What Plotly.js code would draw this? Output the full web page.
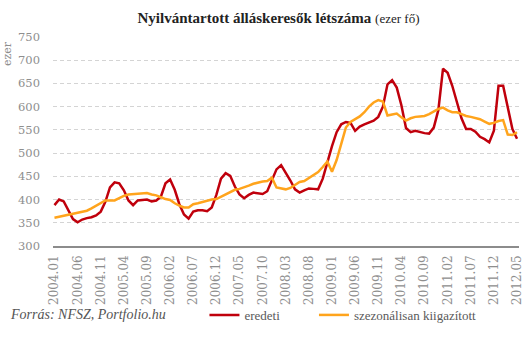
<!DOCTYPE html>
<html>
<head>
<meta charset="utf-8">
<script src="https://cdn.plot.ly/plotly-3.0.1.min.js"></script>
<style>html,body{margin:0;padding:0;background:#fff;}#chart{width:531px;height:342px;}</style>
</head>
<body>
<div id="chart"></div>
<script>
const tickLabels = ["2004.01","2004.06","2004.11","2005.04","2005.09","2006.02","2006.07","2006.12","2007.05","2007.10","2008.03","2008.08","2009.01","2009.06","2009.11","2010.04","2010.09","2011.02","2011.07","2011.12","2012.05"];
const eredeti = [388,400,396,378,358,351,357,360,362,366,374,395,426,437,435,420,398,388,398,399,400,396,398,406,435,443,421,390,368,359,374,377,377,375,383,410,445,457,451,428,411,403,410,415,413,412,418,440,465,474,458,441,422,415,420,424,423,422,445,481,515,545,562,567,565,548,557,562,566,570,578,600,648,657,641,603,554,545,548,545,543,542,555,593,682,673,645,610,575,552,552,546,535,530,523,548,645,645,600,552,531];
const kiigazitott = [361,363,365,368,370,372,374,376,381,387,393,398,398,398,403,408,411,412,412,413,414,411,409,405,401,399,392,387,383,383,390,392,395,397,400,401,406,412,417,421,423,426,430,434,437,439,440,447,426,424,422,425,432,438,440,446,453,459,470,482,460,485,520,555,567,573,579,588,600,609,614,611,581,583,585,577,570,575,578,579,580,584,590,595,598,592,588,588,584,580,578,576,573,568,563,565,569,571,540,539,545];
const seriesNames = ["eredeti","szezonálisan kiigazított"];

const idx = eredeti.map((_, i) => i);
const tickIdx = tickLabels.map((_, k) => k * 5);

const serif = "DejaVu Serif, Liberation Serif, serif";
const legendFont = {family: "Liberation Serif, serif", size: 13, color: "#5a5a5a"};

const traces = [
  {x: idx, y: eredeti, name: seriesNames[0], type: "scatter", mode: "lines",
   line: {color: "#c0000c", width: 2.5}, legend: "legend"},
  {x: idx, y: kiigazitott, name: seriesNames[1], type: "scatter", mode: "lines",
   line: {color: "#ffa41c", width: 2.5}, legend: "legend2"}
];

const layout = {
  width: 531, height: 342,
  margin: {l: 53, r: 12, t: 37, b: 87},
  paper_bgcolor: "#fff", plot_bgcolor: "#fff",
  showlegend: true,
  title: {
    text: "<b>Nyilvántartott álláskeresők létszáma</b> <span style='font-size:13px'>(ezer fő)</span>",
    font: {family: "Liberation Serif, serif", size: 15, color: "#222"},
    x: 0.5245, xref: "container", xanchor: "center",
    y: 0.947, yref: "container", yanchor: "middle"
  },
  xaxis: {
    range: [-0.32, 100.43],
    tickmode: "array", tickvals: tickIdx, ticktext: tickLabels,
    tickangle: -90, ticks: "",
    tickfont: {family: serif, size: 12, color: "#8e8e8e"},
    ticklabelstandoff: 3,
    showgrid: false, zeroline: false,
    showline: true, linecolor: "#8c8c8c", linewidth: 1.5
  },
  yaxis: {
    range: [300, 750],
    tickmode: "array", tickvals: [300,350,400,450,500,550,600,650,700,750],
    ticks: "",
    tickfont: {family: serif, size: 11.5, color: "#8e8e8e"},
    ticklabelstandoff: 12,
    showgrid: true, gridcolor: "#d4d4d4", gridwidth: 1, griddash: "4px,3px",
    zeroline: false, showline: false
  },
  legend: {
    orientation: "h", x: 0.325, xanchor: "left", y: -0.33, yanchor: "middle",
    font: legendFont, itemwidth: 30, bgcolor: "rgba(0,0,0,0)"
  },
  legend2: {
    orientation: "h", x: 0.56, xanchor: "left", y: -0.33, yanchor: "middle",
    font: legendFont, itemwidth: 30, bgcolor: "rgba(0,0,0,0)"
  },
  annotations: [
    {text: "ezer", xref: "paper", yref: "paper", x: -0.098, y: 0.92, xanchor: "center", yanchor: "middle",
     textangle: -90, showarrow: false, font: {family: serif, size: 11, color: "#8e8e8e"}},
    {text: "<i>Forrás: NFSZ, Portfolio.hu</i>", xref: "paper", yref: "paper", x: -0.097, y: -0.33,
     xanchor: "left", yanchor: "middle", showarrow: false,
     font: {family: "Liberation Serif, serif", size: 14, color: "#555"}}
  ]
};

Plotly.newPlot("chart", traces, layout, {staticPlot: true, displayModeBar: false});
</script>
</body>
</html>
